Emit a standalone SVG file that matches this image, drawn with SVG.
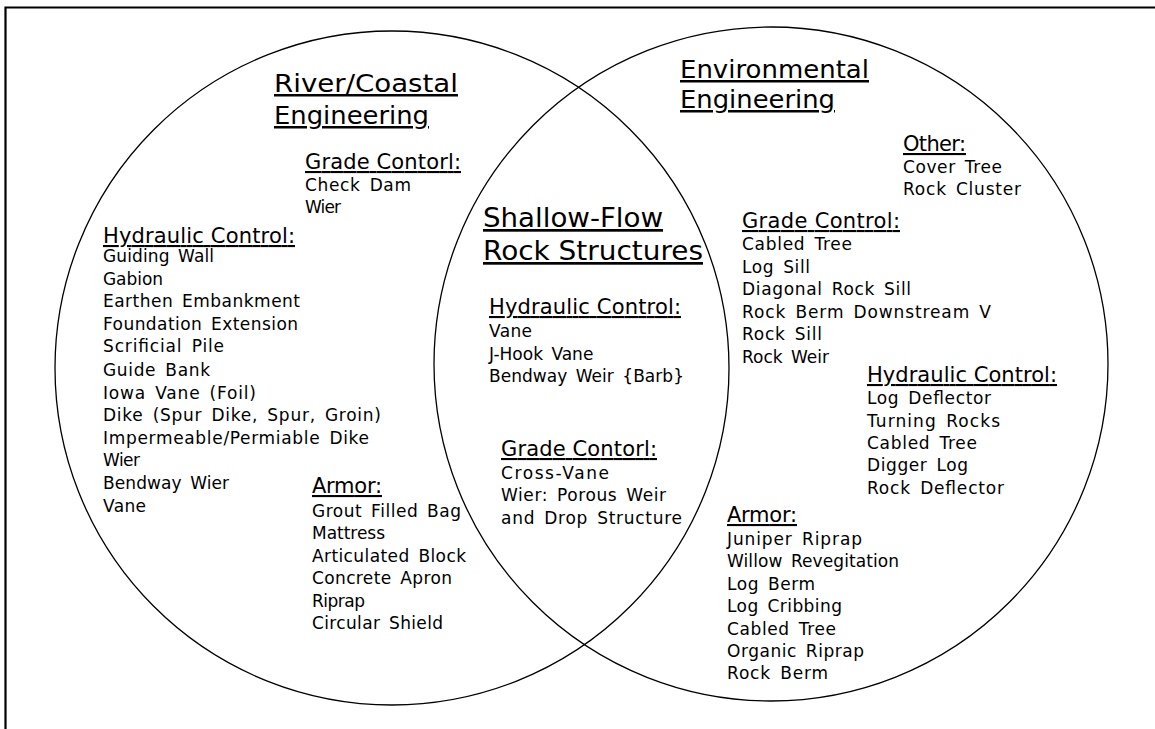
<svg xmlns="http://www.w3.org/2000/svg" width="1155" height="729" viewBox="0 0 1155 729">
<style>
text{font-family:"DejaVu Sans","Liberation Sans",sans-serif;fill:#000}
.t{font-size:25px;text-decoration:underline}
.s{font-size:27px;text-decoration:underline}
.h{font-size:21px;text-decoration:underline}
.i{font-size:17px;word-spacing:3px}
.c{fill:none;stroke:#000;stroke-width:1.3}
.f{fill:none;stroke:#000;stroke-width:2.2}
</style>
<rect width="1155" height="729" fill="#fff"/>
<path class="f" d="M5.5,729V7.5H1155"/>
<g id="river-coastal">
<circle class="c" cx="392" cy="368" r="337"/>
<text class="t" x="274" y="92" textLength="184" lengthAdjust="spacingAndGlyphs">River/Coastal</text>
<text class="t" x="274" y="124" textLength="155" lengthAdjust="spacingAndGlyphs">Engineering</text>
<g id="rc-grade">
<text class="h" x="305" y="169" textLength="156" lengthAdjust="spacing">Grade Contorl:</text>
<text class="i" x="305" y="191" textLength="106" lengthAdjust="spacing">Check Dam</text>
<text class="i" x="305" y="213" textLength="36" lengthAdjust="spacing">Wier</text>
</g>
<g id="rc-hydraulic">
<text class="h" x="103" y="243" textLength="192" lengthAdjust="spacing">Hydraulic Control:</text>
<text class="i" x="103" y="262" textLength="111" lengthAdjust="spacing">Guiding Wall</text>
<text class="i" x="103" y="284.6" textLength="60" lengthAdjust="spacing">Gabion</text>
<text class="i" x="103" y="307.2" textLength="197" lengthAdjust="spacing">Earthen Embankment</text>
<text class="i" x="103" y="329.8" textLength="195" lengthAdjust="spacing">Foundation Extension</text>
<text class="i" x="103" y="352.4" textLength="121" lengthAdjust="spacing">Scrificial Pile</text>
<text class="i" x="103" y="376" textLength="107" lengthAdjust="spacing">Guide Bank</text>
<text class="i" x="103" y="398.6" textLength="153" lengthAdjust="spacing">Iowa Vane (Foil)</text>
<text class="i" x="103" y="421.2" textLength="278" lengthAdjust="spacing">Dike (Spur Dike, Spur, Groin)</text>
<text class="i" x="103" y="443.8" textLength="266" lengthAdjust="spacing">Impermeable/Permiable Dike</text>
<text class="i" x="103" y="466.4" textLength="37" lengthAdjust="spacing">Wier</text>
<text class="i" x="103" y="489" textLength="126" lengthAdjust="spacing">Bendway Wier</text>
<text class="i" x="103" y="511.6" textLength="43" lengthAdjust="spacing">Vane</text>
</g>
<g id="rc-armor">
<text class="h" x="312" y="493" textLength="70" lengthAdjust="spacing">Armor:</text>
<text class="i" x="312" y="516.5" textLength="149" lengthAdjust="spacing">Grout Filled Bag</text>
<text class="i" x="312" y="539" textLength="73" lengthAdjust="spacing">Mattress</text>
<text class="i" x="312" y="561.5" textLength="154" lengthAdjust="spacing">Articulated Block</text>
<text class="i" x="312" y="584" textLength="140" lengthAdjust="spacing">Concrete Apron</text>
<text class="i" x="312" y="606.5" textLength="53" lengthAdjust="spacing">Riprap</text>
<text class="i" x="312" y="629" textLength="131" lengthAdjust="spacing">Circular Shield</text>
</g>
</g>
<g id="environmental">
<circle class="c" cx="771" cy="364" r="337"/>
<text class="t" x="680" y="78" textLength="189" lengthAdjust="spacingAndGlyphs">Environmental</text>
<text class="t" x="680" y="108" textLength="155" lengthAdjust="spacingAndGlyphs">Engineering</text>
<g id="env-other">
<text class="h" x="903" y="151" textLength="63" lengthAdjust="spacing">Other:</text>
<text class="i" x="903" y="173" textLength="99" lengthAdjust="spacing">Cover Tree</text>
<text class="i" x="903" y="195" textLength="118" lengthAdjust="spacing">Rock Cluster</text>
</g>
<g id="env-grade">
<text class="h" x="742" y="228" textLength="158" lengthAdjust="spacing">Grade Control:</text>
<text class="i" x="742" y="250" textLength="110" lengthAdjust="spacing">Cabled Tree</text>
<text class="i" x="742" y="272.5" textLength="68" lengthAdjust="spacing">Log Sill</text>
<text class="i" x="742" y="295" textLength="169" lengthAdjust="spacing">Diagonal Rock Sill</text>
<text class="i" x="742" y="317.5" textLength="249" lengthAdjust="spacing">Rock Berm Downstream V</text>
<text class="i" x="742" y="340" textLength="80" lengthAdjust="spacing">Rock Sill</text>
<text class="i" x="742" y="362.5">Rock Weir</text>
</g>
<g id="env-hydraulic">
<text class="h" x="867" y="382" textLength="190" lengthAdjust="spacing">Hydraulic Control:</text>
<text class="i" x="867" y="404" textLength="124" lengthAdjust="spacing">Log Deflector</text>
<text class="i" x="867" y="426.5" textLength="133" lengthAdjust="spacing">Turning Rocks</text>
<text class="i" x="867" y="449" textLength="110" lengthAdjust="spacing">Cabled Tree</text>
<text class="i" x="867" y="471" textLength="101" lengthAdjust="spacing">Digger Log</text>
<text class="i" x="867" y="493.5" textLength="137" lengthAdjust="spacing">Rock Deflector</text>
</g>
<g id="env-armor">
<text class="h" x="727" y="522" textLength="70" lengthAdjust="spacing">Armor:</text>
<text class="i" x="727" y="544.5" textLength="135" lengthAdjust="spacing">Juniper Riprap</text>
<text class="i" x="727" y="567" textLength="172" lengthAdjust="spacing">Willow Revegitation</text>
<text class="i" x="727" y="589.5" textLength="88" lengthAdjust="spacing">Log Berm</text>
<text class="i" x="727" y="612" textLength="115" lengthAdjust="spacing">Log Cribbing</text>
<text class="i" x="727" y="634.5" textLength="109" lengthAdjust="spacing">Cabled Tree</text>
<text class="i" x="727" y="657" textLength="137" lengthAdjust="spacing">Organic Riprap</text>
<text class="i" x="727" y="679" textLength="101" lengthAdjust="spacing">Rock Berm</text>
</g>
</g>
<g id="shallow-flow">
<text class="s" x="483" y="227" textLength="180" lengthAdjust="spacingAndGlyphs">Shallow-Flow</text>
<text class="s" x="483" y="260" textLength="220" lengthAdjust="spacingAndGlyphs">Rock Structures</text>
<g id="sf-hydraulic">
<text class="h" x="489" y="314" textLength="192" lengthAdjust="spacing">Hydraulic Control:</text>
<text class="i" x="489" y="337" textLength="43" lengthAdjust="spacing">Vane</text>
<text class="i" x="489" y="359.5">J-Hook Vane</text>
<text class="i" x="489" y="382" textLength="195" lengthAdjust="spacing">Bendway Weir {Barb}</text>
</g>
<g id="sf-grade">
<text class="h" x="501" y="456" textLength="156" lengthAdjust="spacing">Grade Contorl:</text>
<text class="i" x="501" y="478.5" textLength="108" lengthAdjust="spacing">Cross-Vane</text>
<text class="i" x="501" y="501" textLength="165" lengthAdjust="spacing">Wier: Porous Weir</text>
<text class="i" x="501" y="523.5" textLength="181" lengthAdjust="spacing">and Drop Structure</text>
</g>
</g>
</svg>
